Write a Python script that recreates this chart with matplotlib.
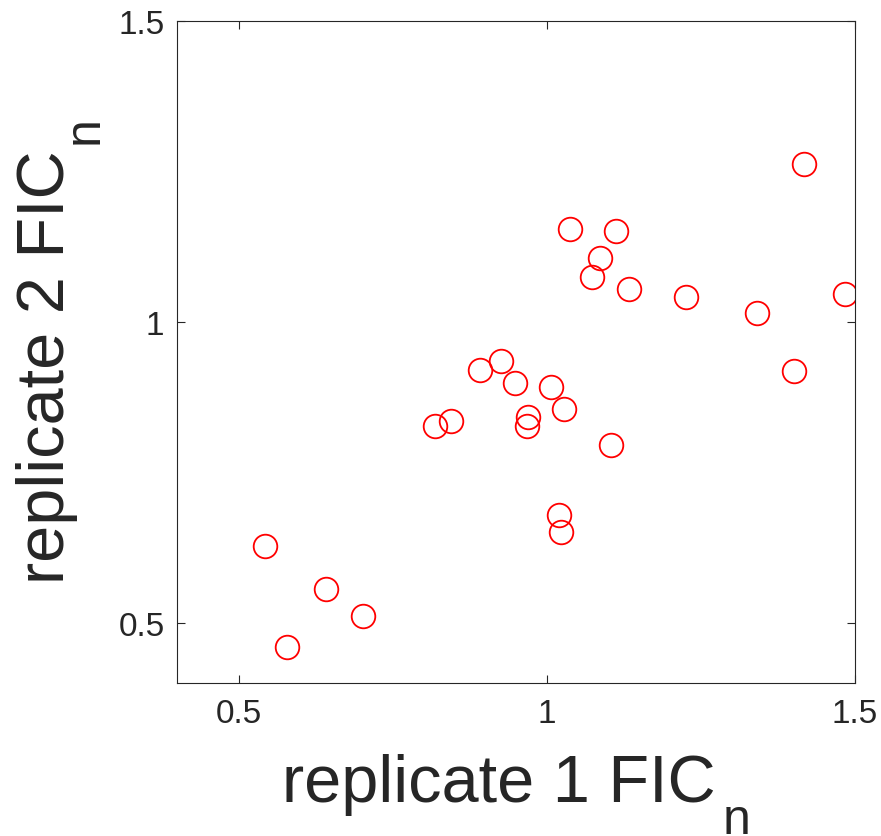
import matplotlib
matplotlib.use("Agg")
import matplotlib.pyplot as plt

# replicate 1 vs replicate 2 normalised FIC values
rep1 = [0.542, 0.578, 0.642, 0.701, 0.819, 0.845, 0.892, 0.926, 0.948, 0.969,
        0.968, 1.006, 1.028, 1.019, 1.023, 1.037, 1.073, 1.087, 1.112, 1.104,
        1.134, 1.225, 1.341, 1.401, 1.417, 1.484]
rep2 = [0.627, 0.459, 0.556, 0.512, 0.827, 0.835, 0.920, 0.935, 0.899, 0.842,
        0.827, 0.892, 0.855, 0.679, 0.651, 1.155, 1.075, 1.106, 1.151, 0.795,
        1.055, 1.042, 1.015, 0.918, 1.263, 1.047]
ticks = [0.5, 1, 1.5]
tick_labels = ["0.5", "1", "1.5"]
xlabel_main, xlabel_sub = "replicate 1 FIC", "n"
ylabel_main, ylabel_sub = "replicate 2 FIC", "n"

INK = "#262626"
W, H = 881, 837
plt.rcParams["font.family"] = ["Liberation Sans", "DejaVu Sans"]

fig = plt.figure(figsize=(W / 100, H / 100), dpi=100)
ax = fig.add_axes([177 / W, 1 - 684 / H, (855 - 177) / W, (684 - 22) / H])

ax.plot(rep1, rep2, linestyle="none", marker="o", markersize=17,
        markerfacecolor="none", markeredgecolor="#ff0000", markeredgewidth=1.3)

ax.set_xlim(0.4, 1.5)
ax.set_ylim(0.4, 1.5)
ax.set_xticks(ticks, tick_labels)
ax.set_yticks(ticks, tick_labels)
ax.tick_params(direction="in", length=5.5, width=0.8, labelsize=24,
               colors=INK, top=True, right=True)
ax.tick_params(axis="x", pad=11)
ax.tick_params(axis="y", pad=9)
for s in ax.spines.values():
    s.set_color(INK)
    s.set_linewidth(0.8)

# MATLAB-style labels: subscript sits fully below the baseline
renderer = fig.canvas.get_renderer()
main_kw = dict(fontsize=48, color=INK, ha="left", va="baseline",
               rotation_mode="anchor")
sub_kw = dict(fontsize=36, color=INK, ha="left", va="baseline",
              rotation_mode="anchor")

xm = fig.text(0, 35 / H, xlabel_main, **main_kw)
xs = fig.text(0, 3 / H, xlabel_sub, **sub_kw)
wm = xm.get_window_extent(renderer).width
ws = xs.get_window_extent(renderer).width
x0 = 516 - (wm + 7 + ws) / 2
xm.set_x(x0 / W)
xs.set_x((x0 + wm + 7) / W)

ym = fig.text(64 / W, 0, ylabel_main, rotation=90, **main_kw)
ys = fig.text(98 / W, 0, ylabel_sub, rotation=90, **sub_kw)
hm = ym.get_window_extent(renderer).height
hs = ys.get_window_extent(renderer).height
y0 = (H - 350) - (hm + 6 + hs) / 2
ym.set_y(y0 / H)
ys.set_y((y0 + hm + 6) / H)

fig.savefig("out.png", dpi=100)
